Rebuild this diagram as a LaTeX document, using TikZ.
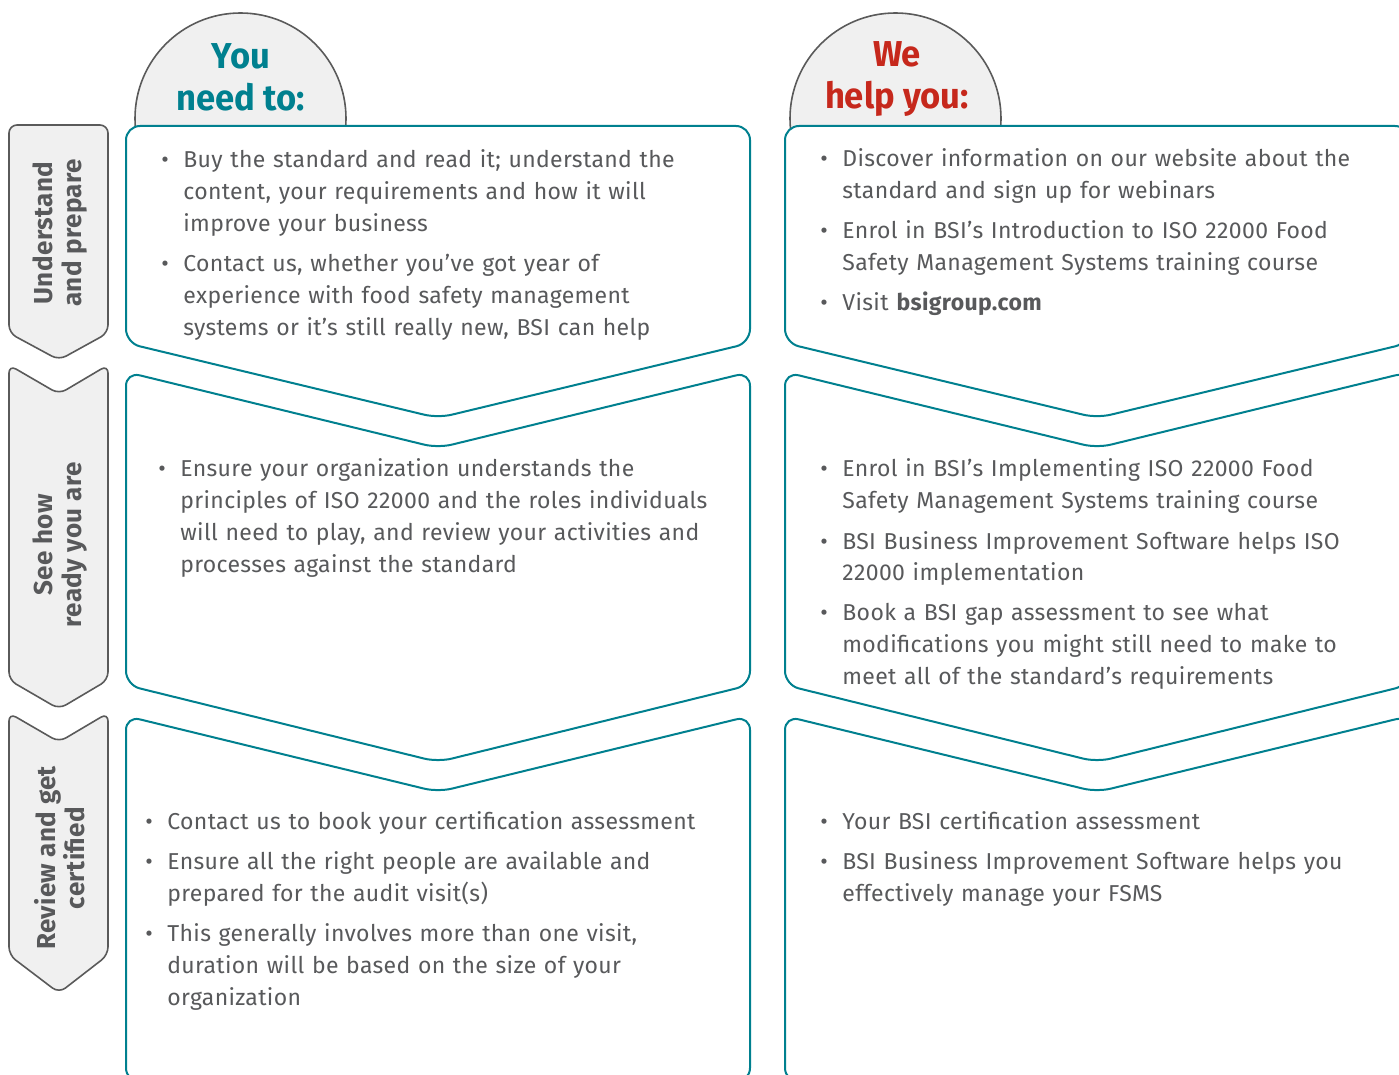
\documentclass[tikz,border=0pt]{standalone}
\usepackage{fontspec}
\setmainfont{Fira Sans}[LetterSpace=1.5]
\newfontfamily\headfont[FakeStretch=0.96]{Fira Sans}
\usetikzlibrary{positioning}
\definecolor{bsiteal}{HTML}{00808F}
\definecolor{bsired}{HTML}{C6281C}
\definecolor{bsigrey}{HTML}{58595B}
\definecolor{tabfill}{HTML}{F0F0F0}
\definecolor{tabline}{HTML}{5A5A5A}
\tikzset{
  stepbox/.style={draw=bsiteal, line width=1pt, fill=white, rounded corners=7pt},
  tab/.style={draw=tabline, line width=0.8pt, fill=tabfill, rounded corners=4pt},
  headcirc/.style={circle, draw=tabline, line width=0.8pt, fill=tabfill, minimum size=105.5pt, inner sep=0pt},
  headtxt/.style={font=\fontsize{18}{21}\headfont\bfseries, align=center, inner sep=0pt},
  tablbl/.style={font=\fontsize{13}{14.5}\selectfont\bfseries, text=bsigrey, align=center, inner sep=0pt, rotate=90},
  items/.style={font=\fontsize{11.5}{16}\selectfont, text=bsigrey, text width=320pt, align=left, inner sep=0pt, anchor=base west}
}
\newcommand\bul[1]{\hangindent=11pt\hangafter=1\noindent\makebox[11pt][l]{\textbullet}#1\par\vspace{4pt}}
\begin{document}
\begin{tikzpicture}[x=0.5pt, y=-0.5pt]
\clip (0,0) rectangle (1399,1075);
% headings behind the boxes
\node[headcirc] (youcirc) at (240.5,118.5) {};
\node[headcirc] (wecirc) at (895.5,118.5) {};
\node[headtxt, text=bsiteal] (youhead) at (241,77) {You\\need to:};
\node[headtxt, text=bsired] (wehead) at (897,79) {We\\help you:};
% stage tabs
\draw[tab] (9,125) -- (108,125) -- (108,333) -- (59,360) -- (9,333) -- cycle;
\draw[tab] (9,365) -- (59,394) -- (108,365) -- (108,680) -- (59,709) -- (9,680) -- cycle;
\draw[tab] (9,713) -- (59,742) -- (108,713) -- (108,955) -- (59,993) -- (9,955) -- cycle;
\node[tablbl] (tabone) at (60,233) {Understand\\and prepare};
\node[tablbl] (tabtwo) at (60,545) {See how\\ready you are};
\node[tablbl] (tabthree) at (60,858) {Review and get\\certified};
% step boxes
\foreach \x in {126,785}{
  \draw[stepbox] (\x,126) -- (\x+624,126) -- (\x+624,343) -- (\x+312,418) -- (\x,343) -- cycle;
  \draw[stepbox] (\x,372) -- (\x+312,448) -- (\x+624,372) -- (\x+624,685) -- (\x+312,762) -- (\x,685) -- cycle;
  \draw[stepbox] (\x,716) -- (\x+312,792) -- (\x+624,716) -- (\x+624,1082) -- (\x,1082) -- cycle;
}
% you need to
\node[items] (needone) at (161,168) {%
  \bul{Buy the standard and read it; understand the\newline content, your requirements and how it will\newline improve your business}
  \bul{Contact us, whether you’ve got year of\newline experience with food safety management\newline systems or it’s still really new, BSI can help}};
\node[items] (needtwo) at (158,477) {%
  \bul{Ensure your organization understands the\newline principles of ISO 22000 and the roles individuals\newline will need to play, and review your activities and\newline processes against the standard}};
\node[items] (needthree) at (145,829) {%
  \bul{Contact us to book your certification assessment}
  \bul{Ensure all the right people are available and\newline prepared for the audit visit(s)}
  \bul{This generally involves more than one visit,\newline duration will be based on the size of your\newline organization}};
% we help you
\node[items] (helpone) at (820,167) {%
  \bul{Discover information on our website about the\newline standard and sign up for webinars}
  \bul{Enrol in BSI’s Introduction to ISO 22000 Food\newline Safety Management Systems training course}
  \bul{Visit \textbf{bsigroup.com}}};
\node[items] (helptwo) at (820,477) {%
  \bul{Enrol in BSI’s Implementing ISO 22000 Food\newline Safety Management Systems training course}
  \bul{BSI Business Improvement Software helps ISO\newline 22000 implementation}
  \bul{Book a BSI gap assessment to see what\newline modifications you might still need to make to\newline meet all of the standard’s requirements}};
\node[items] (helpthree) at (820,829) {%
  \bul{Your BSI certification assessment}
  \bul{BSI Business Improvement Software helps you\newline effectively manage your FSMS}};
\end{tikzpicture}
\end{document}
